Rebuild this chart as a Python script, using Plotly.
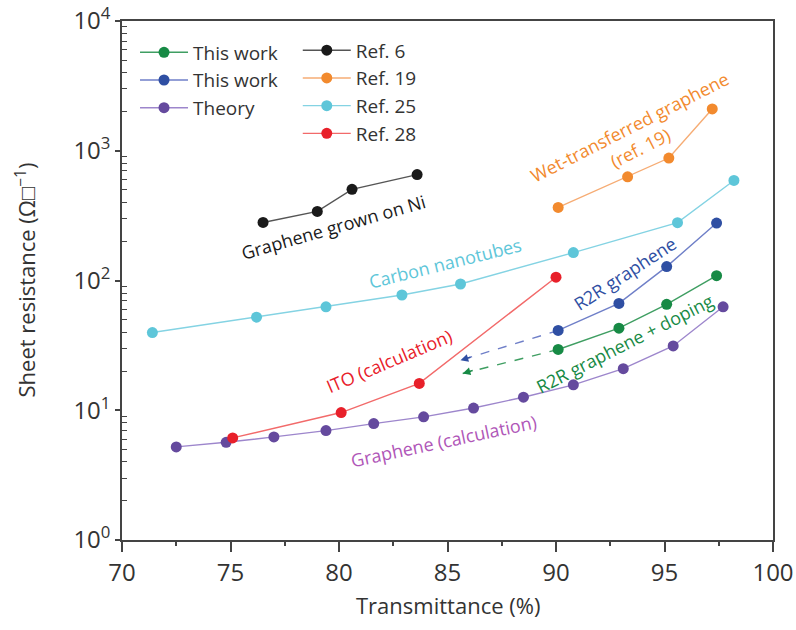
import math
import plotly.graph_objects as go

# ---------------- data ----------------
green_T = [90.1, 92.9, 95.1, 97.4]
green_R = [29.4, 42.9, 65.5, 109]

blue_T = [90.1, 92.9, 95.1, 97.4]
blue_R = [41.2, 66.6, 128, 277]

theory_T = [72.5, 74.8, 77.0, 79.4, 81.6, 83.9, 86.2, 88.5, 90.8, 93.1, 95.4, 97.7]
theory_R = [5.22, 5.66, 6.23, 6.97, 7.89, 8.90, 10.4, 12.6, 15.7, 20.9, 31.3, 62.7]

ref6_T = [76.5, 79.0, 80.6, 83.6]
ref6_R = [280, 341, 504, 655]

ref19_T = [90.1, 93.3, 95.2, 97.2]
ref19_R = [366, 630, 879, 2100]

ref25_T = [71.4, 76.2, 79.4, 82.9, 85.6, 90.8, 95.6, 98.2]
ref25_R = [39.7, 52.2, 62.7, 77.3, 94.0, 164, 279, 590]

ref28_T = [75.1, 80.1, 83.7, 90.0]
ref28_R = [6.12, 9.6, 16.1, 106]

# dashed "improvement" arrows (tail at first R2R points, tip to the left)
blue_arrow_T = [90.1, 85.6]
blue_arrow_R = [41.2, 24.3]
green_arrow_T = [90.1, 85.7]
green_arrow_R = [29.4, 19.2]

ytick_vals = [1, 10, 100, 1000, 10000]
ytick_text = ["10<sup>0</sup>", "10<sup>1</sup>", "10<sup>2</sup>", "10<sup>3</sup>", "10<sup>4</sup>"]
xtick_vals = [70, 75, 80, 85, 90, 95, 100]
xtick_text = ["70", "75", "80", "85", "90", "95", "100"]

x_title = "Transmittance (%)"
y_title = "Sheet resistance (Ω□<sup>−1</sup>)"

# ---------------- styles ----------------
FONT = "Open Sans"
C_GREEN, L_GREEN = "#178a45", "#3f9e62"
C_BLUE, L_BLUE = "#2f4fa3", "#6f7fc8"
C_PURP, L_PURP = "#654a9e", "#9d86cc"
C_BLACK, L_BLACK = "#1a1a1a", "#555555"
C_ORANGE, L_ORANGE = "#f28a2e", "#f6ac74"
C_CYAN, L_CYAN = "#5ec6d9", "#84d3e3"
C_RED, L_RED = "#e8202a", "#f26a6a"

fig = go.Figure()

def add(T, R, name, mc, lc, legend):
    fig.add_trace(go.Scatter(
        x=T, y=R, name=name, mode="lines+markers",
        line=dict(color=lc, width=1.4),
        marker=dict(color=mc, size=11),
        legend=legend,
    ))

# dashed arrows first (behind)
fig.add_trace(go.Scatter(x=blue_arrow_T, y=blue_arrow_R, mode="lines", showlegend=False,
                         line=dict(color=L_BLUE, width=1.4, dash="dash"), hoverinfo="skip"))
fig.add_trace(go.Scatter(x=green_arrow_T, y=green_arrow_R, mode="lines", showlegend=False,
                         line=dict(color=L_GREEN, width=1.4, dash="dash"), hoverinfo="skip"))

add(green_T, green_R, "This work", C_GREEN, L_GREEN, "legend")
add(blue_T, blue_R, "This work", C_BLUE, L_BLUE, "legend")
add(theory_T, theory_R, "Theory", C_PURP, L_PURP, "legend")
add(ref6_T, ref6_R, "Ref. 6", C_BLACK, L_BLACK, "legend2")
add(ref19_T, ref19_R, "Ref. 19", C_ORANGE, L_ORANGE, "legend2")
add(ref25_T, ref25_R, "Ref. 25", C_CYAN, L_CYAN, "legend2")
add(ref28_T, ref28_R, "Ref. 28", C_RED, L_RED, "legend2")

annots = []
# arrow heads
for T, R, col in [(blue_arrow_T, blue_arrow_R, C_BLUE), (green_arrow_T, green_arrow_R, C_GREEN)]:
    annots.append(dict(x=T[1], y=math.log10(R[1]), xref="x", yref="y", text="",
                       showarrow=True, arrowhead=2, arrowsize=1.1, arrowwidth=1.4,
                       arrowcolor=col, ax=11.5, ay=-3.4, standoff=0))

labels = [
    ("Graphene grown on Ni", 79.74, 2.414, -16, C_BLACK),
    ("Carbon nanotubes", 84.9, 2.135, -14, C_CYAN),
    ("Wet-transferred graphene<br>(ref. 19)", 93.6, 3.105, -27, C_ORANGE),
    ("R2R graphene", 93.2, 2.058, -33, C_BLUE),
    ("R2R graphene + doping", 93.2, 1.516, -27, C_GREEN),
    ("ITO (calculation)", 82.3, 1.377, -23, C_RED),
    ("Graphene (calculation)", 84.8, 0.766, -12, "#b056b8"),
]
for txt, x, y, ang, col in labels:
    annots.append(dict(x=x, y=y, xref="x", yref="y", text=txt, showarrow=False,
                       textangle=ang, font=dict(family=FONT, size=18, color=col)))

# axis titles
annots.append(dict(x=0.5, y=-0.125, xref="paper", yref="paper", text=x_title, showarrow=False,
                   xanchor="center", yanchor="middle", font=dict(family=FONT, size=22, color="#333")))
annots.append(dict(x=-0.149, y=0.5, xref="paper", yref="paper", text=y_title, showarrow=False,
                   textangle=-90, xanchor="center", yanchor="middle",
                   font=dict(family=FONT, size=22, color="#333")))

minor_y = [m * 10 ** e for e in range(0, 4) for m in range(2, 10)]

fig.update_layout(
    width=796, height=630,
    margin=dict(l=122, r=23, t=21, b=90, autoexpand=False),
    paper_bgcolor="white", plot_bgcolor="white",
    font=dict(family=FONT, color="#333333"),
    annotations=annots,
    legend=dict(x=0.02, y=0.976, xanchor="left", yanchor="top", bgcolor="rgba(0,0,0,0)",
                font=dict(family=FONT, size=19, color="#333333"), itemwidth=48,
                tracegroupgap=0),
    legend2=dict(x=0.27, y=0.98, xanchor="left", yanchor="top", bgcolor="rgba(0,0,0,0)",
                 font=dict(family=FONT, size=19, color="#333333"), itemwidth=48,
                 tracegroupgap=0),
    xaxis=dict(range=[70, 100], tickvals=xtick_vals, ticktext=xtick_text, automargin=False,
               ticks="outside", ticklen=10, tickwidth=1.5, tickcolor="#444",
               showline=True, linecolor="#444", linewidth=1.5, mirror=True,
               showgrid=False, zeroline=False,
               tickfont=dict(family=FONT, size=24, color="#333"),
               minor=dict(tickvals=[72.5, 77.5, 82.5, 87.5, 92.5, 97.5], ticks="outside",
                          ticklen=4, tickwidth=1.5, tickcolor="#444", showgrid=False)),
    yaxis=dict(type="log", range=[0, 4], tickvals=ytick_vals, ticktext=ytick_text, automargin=False,
               ticks="outside", ticklen=5, tickwidth=1.5, tickcolor="#444",
               showline=True, linecolor="#444", linewidth=1.5, mirror=True,
               showgrid=False, zeroline=False,
               tickfont=dict(family=FONT, size=24, color="#333"),
               minor=dict(tickvals=minor_y, ticks="inside", ticklen=5, tickwidth=1.2,
                          tickcolor="#444", showgrid=False)),
)

fig.write_html("out.html")
